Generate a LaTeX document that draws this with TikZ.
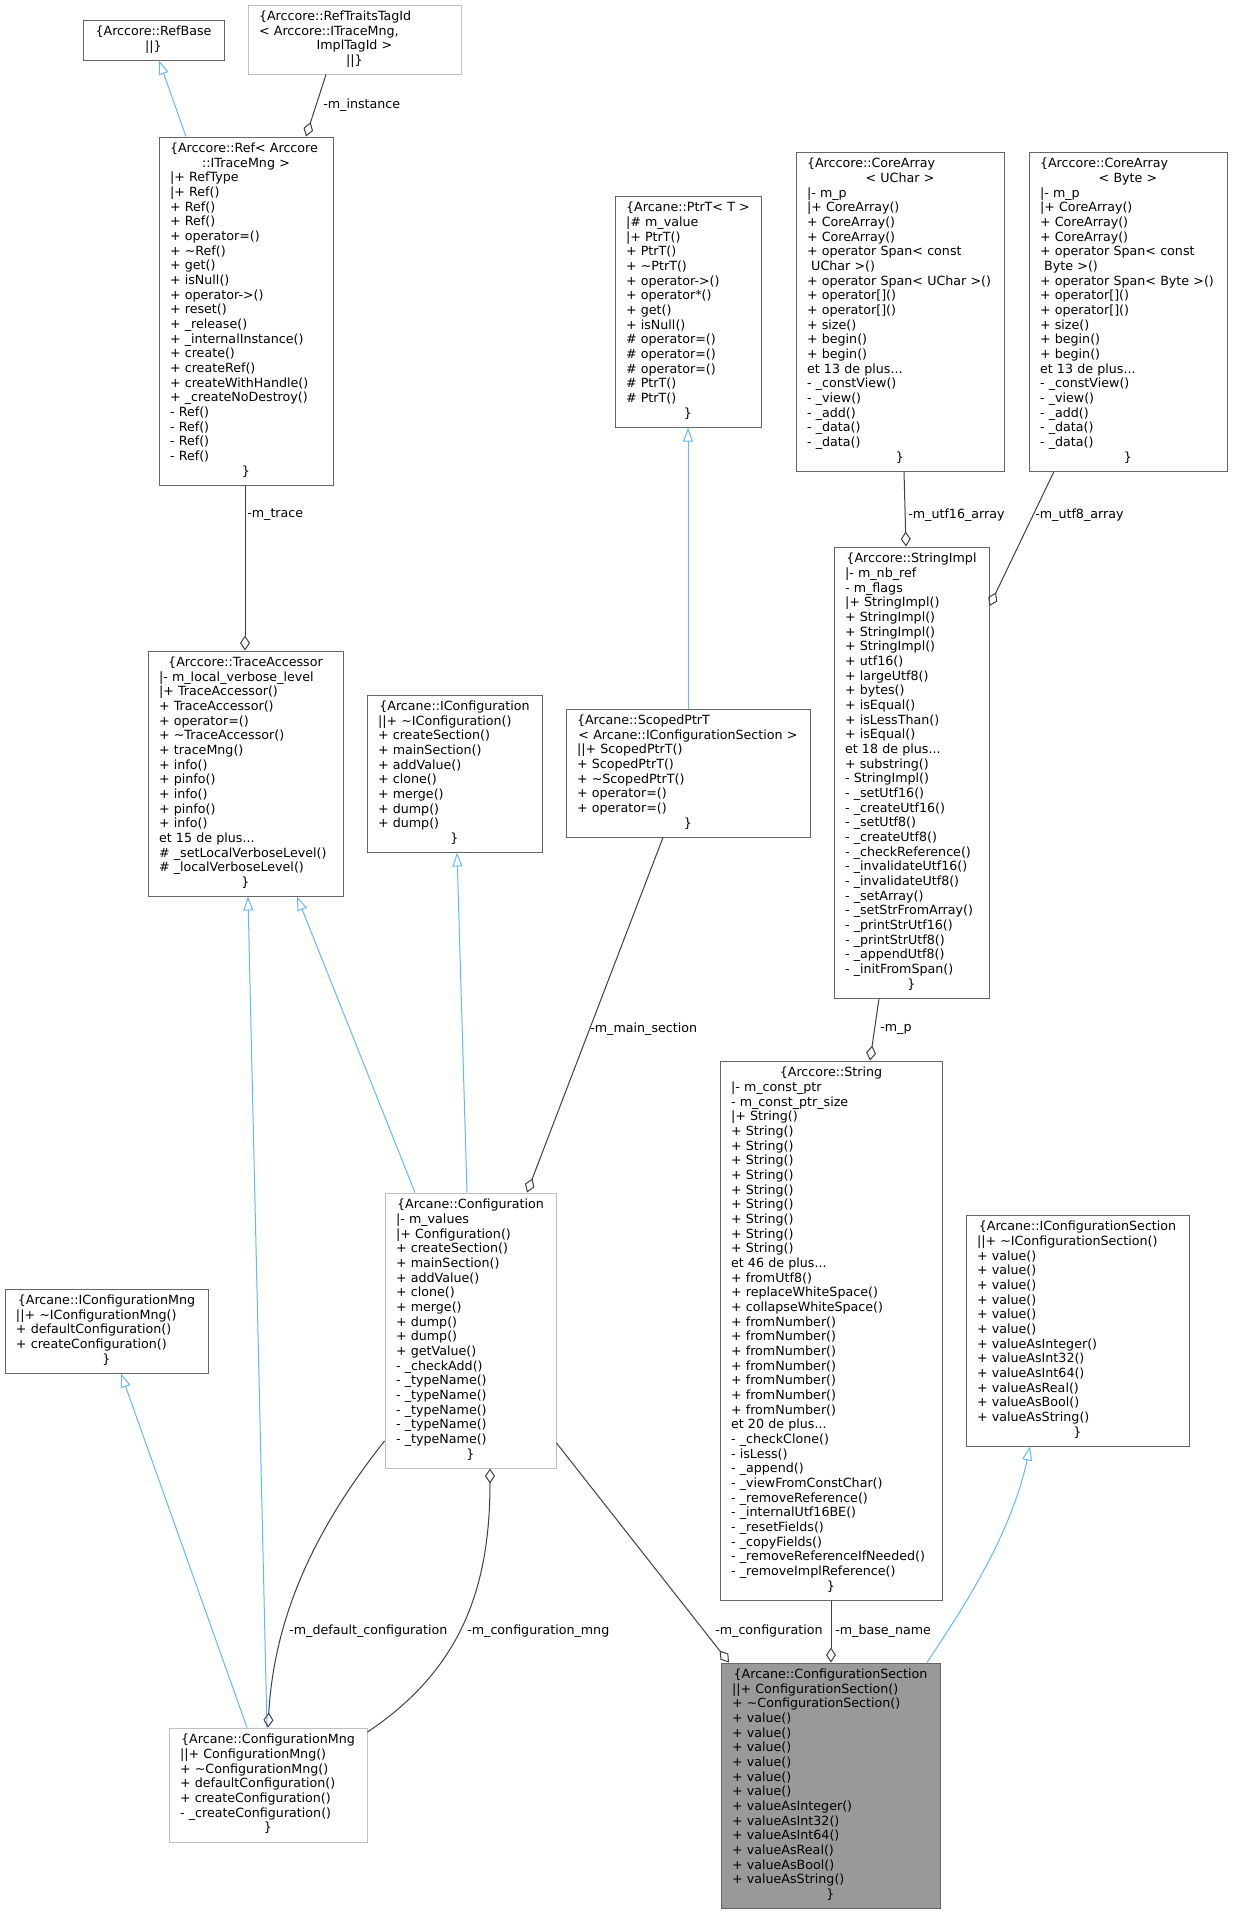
\documentclass[tikz,border=0pt]{standalone}
\usepackage{fontspec}
\setmainfont{DejaVu Sans}
\usetikzlibrary{arrows.meta}
\definecolor{nodeborder}{HTML}{666666}
\definecolor{lightborder}{HTML}{BFBFBF}
\definecolor{focusfill}{HTML}{999999}
\definecolor{aggcol}{HTML}{404040}
\definecolor{inhcol}{HTML}{63B8FF}
\newcommand\Lx[1]{\hbox to\hsize{\strut#1\hfil}}
\newcommand\Cx[1]{\hbox to\hsize{\hfil\strut#1\hfil}}
\newcommand\tld{\textasciitilde}
\newcommand\umlbox[7]{%
  \pgfmathsetmacro\uW{(#4-#2)*0.75}%
  \pgfmathsetmacro\uH{(#5-#3)*0.75}%
  \pgfmathsetmacro\uT{(#4-#2-22)*0.75}%
  \node[#6, minimum width=\uW pt, minimum height=\uH pt, text width=\uT pt] (#1) at ({(#2+#4)/2},{(#3+#5)/2}) {#7};}
\tikzset{
  cls/.style={draw=nodeborder, line width=0.75pt, rectangle, inner sep=0pt, fill=white,
    font=\fontsize{9.5}{11}\selectfont},
  clslight/.style={cls, draw=lightborder},
  clsfocus/.style={cls, fill=focusfill},
  inh/.style={draw=inhcol, line width=0.75pt, -{Triangle[open, length=10.5pt, width=7.5pt]}},
  agg/.style={draw=aggcol, line width=0.75pt, {Diamond[open, length=11.25pt, width=7.5pt]}-},
  lbl/.style={anchor=west, inner sep=0pt, font=\fontsize{9.5}{11}\selectfont},
}
\begin{document}
\begin{tikzpicture}[x=0.75pt, y=-0.75pt]
\fill[white] (0,0) rectangle (1233,1913);
\useasboundingbox (0,0) rectangle (1233,1913);

\umlbox{refbase}{83}{20}{224}{60}{cls}{%
\Cx{\{Arccore::RefBase}
\Cx{||\}}}

\umlbox{reftraits}{248}{5}{461}{74}{clslight}{%
\Lx{\{Arccore::RefTraitsTagId}
\Lx{< Arccore::ITraceMng,}
\Cx{ImplTagId >}
\Cx{||\}}}

\umlbox{ref}{159}{137}{333}{485}{cls}{%
\Lx{\{Arccore::Ref< Arccore}
\Cx{::ITraceMng >}
\Lx{|+ RefType}
\Lx{|+ Ref()}
\Lx{+ Ref()}
\Lx{+ Ref()}
\Lx{+ operator=()}
\Lx{+ \tld Ref()}
\Lx{+ get()}
\Lx{+ isNull()}
\Lx{+ operator->()}
\Lx{+ reset()}
\Lx{+ \_release()}
\Lx{+ \_internalInstance()}
\Lx{+ create()}
\Lx{+ createRef()}
\Lx{+ createWithHandle()}
\Lx{+ \_createNoDestroy()}
\Lx{- Ref()}
\Lx{- Ref()}
\Lx{- Ref()}
\Lx{- Ref()}
\Cx{\}}}

\umlbox{ptrt}{615}{196}{761}{427}{cls}{%
\Cx{\{Arcane::PtrT< T >}
\Lx{|\# m\_value}
\Lx{|+ PtrT()}
\Lx{+ PtrT()}
\Lx{+ \tld PtrT()}
\Lx{+ operator->()}
\Lx{+ operator*()}
\Lx{+ get()}
\Lx{+ isNull()}
\Lx{\# operator=()}
\Lx{\# operator=()}
\Lx{\# operator=()}
\Lx{\# PtrT()}
\Lx{\# PtrT()}
\Cx{\}}}

\umlbox{coreuchar}{796}{152}{1004}{471}{cls}{%
\Lx{\{Arccore::CoreArray}
\Cx{< UChar >}
\Lx{|- m\_p}
\Lx{|+ CoreArray()}
\Lx{+ CoreArray()}
\Lx{+ CoreArray()}
\Lx{+ operator Span< const}
\Lx{\ UChar >()}
\Lx{+ operator Span< UChar >()}
\Lx{+ operator[]()}
\Lx{+ operator[]()}
\Lx{+ size()}
\Lx{+ begin()}
\Lx{+ begin()}
\Lx{et 13 de plus...}
\Lx{- \_constView()}
\Lx{- \_view()}
\Lx{- \_add()}
\Lx{- \_data()}
\Lx{- \_data()}
\Cx{\}}}

\umlbox{corebyte}{1029}{152}{1227}{471}{cls}{%
\Lx{\{Arccore::CoreArray}
\Cx{< Byte >}
\Lx{|- m\_p}
\Lx{|+ CoreArray()}
\Lx{+ CoreArray()}
\Lx{+ CoreArray()}
\Lx{+ operator Span< const}
\Lx{\ Byte >()}
\Lx{+ operator Span< Byte >()}
\Lx{+ operator[]()}
\Lx{+ operator[]()}
\Lx{+ size()}
\Lx{+ begin()}
\Lx{+ begin()}
\Lx{et 13 de plus...}
\Lx{- \_constView()}
\Lx{- \_view()}
\Lx{- \_add()}
\Lx{- \_data()}
\Lx{- \_data()}
\Cx{\}}}

\umlbox{stringimpl}{834}{547}{989}{998}{cls}{%
\Cx{\{Arccore::StringImpl}
\Lx{|- m\_nb\_ref}
\Lx{- m\_flags}
\Lx{|+ StringImpl()}
\Lx{+ StringImpl()}
\Lx{+ StringImpl()}
\Lx{+ StringImpl()}
\Lx{+ utf16()}
\Lx{+ largeUtf8()}
\Lx{+ bytes()}
\Lx{+ isEqual()}
\Lx{+ isLessThan()}
\Lx{+ isEqual()}
\Lx{et 18 de plus...}
\Lx{+ substring()}
\Lx{- StringImpl()}
\Lx{- \_setUtf16()}
\Lx{- \_createUtf16()}
\Lx{- \_setUtf8()}
\Lx{- \_createUtf8()}
\Lx{- \_checkReference()}
\Lx{- \_invalidateUtf16()}
\Lx{- \_invalidateUtf8()}
\Lx{- \_setArray()}
\Lx{- \_setStrFromArray()}
\Lx{- \_printStrUtf16()}
\Lx{- \_printStrUtf8()}
\Lx{- \_appendUtf8()}
\Lx{- \_initFromSpan()}
\Cx{\}}}

\umlbox{traceacc}{148}{651}{343}{896}{cls}{%
\Cx{\{Arccore::TraceAccessor}
\Lx{|- m\_local\_verbose\_level}
\Lx{|+ TraceAccessor()}
\Lx{+ TraceAccessor()}
\Lx{+ operator=()}
\Lx{+ \tld TraceAccessor()}
\Lx{+ traceMng()}
\Lx{+ info()}
\Lx{+ pinfo()}
\Lx{+ info()}
\Lx{+ pinfo()}
\Lx{+ info()}
\Lx{et 15 de plus...}
\Lx{\# \_setLocalVerboseLevel()}
\Lx{\# \_localVerboseLevel()}
\Cx{\}}}

\umlbox{iconfig}{367}{695}{542}{852}{cls}{%
\Cx{\{Arcane::IConfiguration}
\Lx{||+ \tld IConfiguration()}
\Lx{+ createSection()}
\Lx{+ mainSection()}
\Lx{+ addValue()}
\Lx{+ clone()}
\Lx{+ merge()}
\Lx{+ dump()}
\Lx{+ dump()}
\Cx{\}}}

\umlbox{scoped}{566}{709}{810}{837}{cls}{%
\Lx{\{Arcane::ScopedPtrT}
\Cx{< Arcane::IConfigurationSection >}
\Lx{||+ ScopedPtrT()}
\Lx{+ ScopedPtrT()}
\Lx{+ \tld ScopedPtrT()}
\Lx{+ operator=()}
\Lx{+ operator=()}
\Cx{\}}}

\umlbox{string}{720}{1061}{942}{1600}{cls}{%
\Cx{\{Arccore::String}
\Lx{|- m\_const\_ptr}
\Lx{- m\_const\_ptr\_size}
\Lx{|+ String()}
\Lx{+ String()}
\Lx{+ String()}
\Lx{+ String()}
\Lx{+ String()}
\Lx{+ String()}
\Lx{+ String()}
\Lx{+ String()}
\Lx{+ String()}
\Lx{+ String()}
\Lx{et 46 de plus...}
\Lx{+ fromUtf8()}
\Lx{+ replaceWhiteSpace()}
\Lx{+ collapseWhiteSpace()}
\Lx{+ fromNumber()}
\Lx{+ fromNumber()}
\Lx{+ fromNumber()}
\Lx{+ fromNumber()}
\Lx{+ fromNumber()}
\Lx{+ fromNumber()}
\Lx{+ fromNumber()}
\Lx{et 20 de plus...}
\Lx{- \_checkClone()}
\Lx{- isLess()}
\Lx{- \_append()}
\Lx{- \_viewFromConstChar()}
\Lx{- \_removeReference()}
\Lx{- \_internalUtf16BE()}
\Lx{- \_resetFields()}
\Lx{- \_copyFields()}
\Lx{- \_removeReferenceIfNeeded()}
\Lx{- \_removeImplReference()}
\Cx{\}}}

\umlbox{config}{385}{1193}{556}{1468}{clslight}{%
\Cx{\{Arcane::Configuration}
\Lx{|- m\_values}
\Lx{|+ Configuration()}
\Lx{+ createSection()}
\Lx{+ mainSection()}
\Lx{+ addValue()}
\Lx{+ clone()}
\Lx{+ merge()}
\Lx{+ dump()}
\Lx{+ dump()}
\Lx{+ getValue()}
\Lx{- \_checkAdd()}
\Lx{- \_typeName()}
\Lx{- \_typeName()}
\Lx{- \_typeName()}
\Lx{- \_typeName()}
\Lx{- \_typeName()}
\Cx{\}}}

\umlbox{iconfigmng}{5}{1289}{208}{1373}{cls}{%
\Cx{\{Arcane::IConfigurationMng}
\Lx{||+ \tld IConfigurationMng()}
\Lx{+ defaultConfiguration()}
\Lx{+ createConfiguration()}
\Cx{\}}}

\umlbox{iconfigsec}{966}{1215}{1189}{1446}{cls}{%
\Cx{\{Arcane::IConfigurationSection}
\Lx{||+ \tld IConfigurationSection()}
\Lx{+ value()}
\Lx{+ value()}
\Lx{+ value()}
\Lx{+ value()}
\Lx{+ value()}
\Lx{+ value()}
\Lx{+ valueAsInteger()}
\Lx{+ valueAsInt32()}
\Lx{+ valueAsInt64()}
\Lx{+ valueAsReal()}
\Lx{+ valueAsBool()}
\Lx{+ valueAsString()}
\Cx{\}}}

\umlbox{configsec}{721}{1663}{940}{1908}{clsfocus}{%
\Cx{\{Arcane::ConfigurationSection}
\Lx{||+ ConfigurationSection()}
\Lx{+ \tld ConfigurationSection()}
\Lx{+ value()}
\Lx{+ value()}
\Lx{+ value()}
\Lx{+ value()}
\Lx{+ value()}
\Lx{+ value()}
\Lx{+ valueAsInteger()}
\Lx{+ valueAsInt32()}
\Lx{+ valueAsInt64()}
\Lx{+ valueAsReal()}
\Lx{+ valueAsBool()}
\Lx{+ valueAsString()}
\Cx{\}}}

\umlbox{configmng}{169}{1728}{367}{1842}{clslight}{%
\Cx{\{Arcane::ConfigurationMng}
\Lx{||+ ConfigurationMng()}
\Lx{+ \tld ConfigurationMng()}
\Lx{+ defaultConfiguration()}
\Lx{+ createConfiguration()}
\Lx{- \_createConfiguration()}
\Cx{\}}}

% edges
\draw[inh] (ref.north -| 186,0) -- (refbase.south -| 159,0);
\draw[agg] (ref.north -| 306,0) -- (reftraits.south -| 326,0);
\draw[agg] (traceacc.north -| 245,0) -- (ref.south -| 245,0);
\draw[inh] (scoped.north -| 688,0) -- (ptrt.south -| 688,0);
\draw[agg] (stringimpl.north -| 906,0) -- (coreuchar.south -| 904,0);
\draw[agg] (stringimpl.east |- 0,606) -- (corebyte.south -| 1054,0);
\draw[agg] (string.north -| 870,0) -- (stringimpl.south -| 879,0);
\draw[inh] (config.north -| 415,0) -- (traceacc.south -| 297,0);
\draw[inh] (config.north -| 467,0) -- (iconfig.south -| 457,0);
\draw[agg] (config.north -| 527,0) -- (scoped.south -| 663,0);
\draw[inh] (configmng.north -| 267,0) -- (traceacc.south -| 248,0);
\draw[inh] (configmng.north -| 247,0) -- (iconfigmng.south -| 121,0);
\draw[agg] (configmng.north -| 268,0) .. controls (275,1600) and (330,1510) .. (config.west |- 0,1441);
\draw[agg] (config.south -| 490,0) .. controls (490,1590) and (460,1670) .. (configmng.east |- 0,1732);
\draw[agg] (configsec.north -| 729,0) -- (config.east |- 0,1443);
\draw[agg] (configsec.north -| 831,0) -- (string.south -| 831,0);
\draw[inh] (configsec.north -| 927,0) .. controls (955,1620) and (1010,1540) .. (iconfigsec.south -| 1030,0);

% labels
\node[lbl] (l1) at (323,105) {-m\_instance};
\node[lbl] (l2) at (247,515) {-m\_trace};
\node[lbl] (l3) at (908,515) {-m\_utf16\_array};
\node[lbl] (l4) at (1035,515) {-m\_utf8\_array};
\node[lbl] (l5) at (880,1029) {-m\_p};
\node[lbl] (l6) at (590,1029) {-m\_main\_section};
\node[lbl] (l7) at (289,1631) {-m\_default\_configuration};
\node[lbl] (l8) at (467,1631) {-m\_configuration\_mng};
\node[lbl] (l9) at (715,1631) {-m\_configuration};
\node[lbl] (l10) at (835,1631) {-m\_base\_name};
\end{tikzpicture}
\end{document}
